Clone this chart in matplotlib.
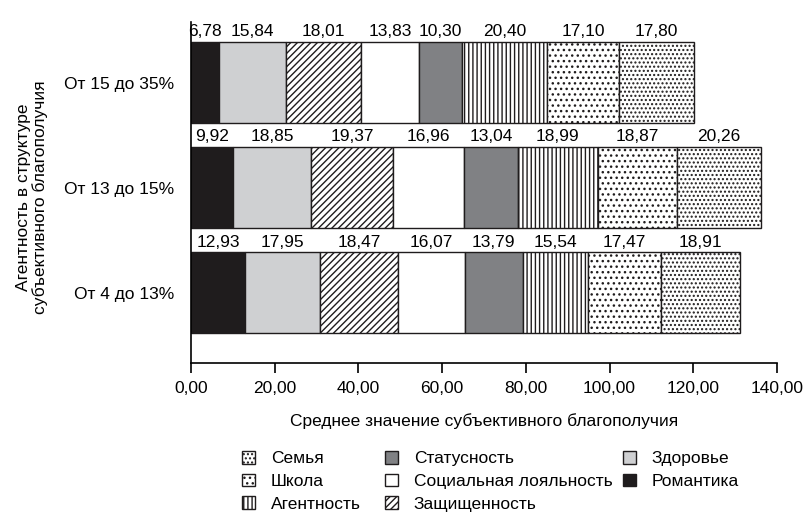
import numpy as np
import matplotlib
matplotlib.use('Agg')
import matplotlib.pyplot as plt
from matplotlib.ticker import FuncFormatter

plt.rcParams['font.family'] = ['Liberation Sans Narrow', 'Liberation Sans', 'DejaVu Sans']
plt.rcParams['hatch.linewidth'] = 1.0

categories = ['От 4 до 13%', 'От 13 до 15%', 'От 15 до 35%']
series = ['Романтика', 'Здоровье', 'Защищенность', 'Социальная лояльность',
          'Статусность', 'Агентность', 'Школа', 'Семья']
values = {
    'Романтика':             [12.93, 9.92, 6.78],
    'Здоровье':              [17.95, 18.85, 15.84],
    'Защищенность':          [18.47, 19.37, 18.01],
    'Социальная лояльность': [16.07, 16.96, 13.83],
    'Статусность':           [13.79, 13.04, 10.30],
    'Агентность':            [15.54, 18.99, 20.40],
    'Школа':                 [17.47, 18.87, 17.10],
    'Семья':                 [18.91, 20.26, 17.80],
}
xticks = [0, 20, 40, 60, 80, 100, 120, 140]

styles = {
    'Романтика':             dict(color='#1f1c1d', hatch=None),
    'Здоровье':              dict(color='#cfd0d2', hatch=None),
    'Защищенность':          dict(color='white', hatch='/////'),
    'Социальная лояльность': dict(color='white', hatch=None),
    'Статусность':           dict(color='#808184', hatch=None),
    'Агентность':            dict(color='white', hatch='||||'),
    'Школа':                 dict(color='white', hatch='...'),
    'Семья':                 dict(color='white', hatch='....'),
}

fs = 12.5
fig = plt.figure(figsize=(8.07, 5.19), dpi=100)
ax = fig.add_axes([0.2367, 0.3006, 0.7262, 0.657])

y = np.arange(len(categories))
left = np.zeros(len(categories))
for name in series:
    vals = np.array(values[name])
    st = styles[name]
    ax.barh(y, vals, left=left, height=0.77, color=st['color'], hatch=st['hatch'],
            edgecolor='#1f1c1d', linewidth=1.0, label=name)
    for i, v in enumerate(vals):
        ax.text(left[i] + v / 2, y[i] + 0.41, ('%.2f' % v).replace('.', ','),
                ha='center', va='bottom', fontsize=fs)
    left += vals

ax.set_xlim(0, 140)
ax.set_ylim(-0.67, 2.576)
ax.set_xticks(xticks)
ax.xaxis.set_major_formatter(FuncFormatter(lambda v, p: ('%.2f' % v).replace('.', ',')))
ax.set_yticks(y)
ax.set_yticklabels(categories)
ax.tick_params(axis='y', length=0, pad=12, labelsize=fs)
ax.tick_params(axis='x', length=7, width=1.2, pad=6, labelsize=fs)
for s in ['top', 'right']:
    ax.spines[s].set_visible(False)
for s in ['left', 'bottom']:
    ax.spines[s].set_linewidth(1.2)
ax.set_xlabel('Среднее значение субъективного благополучия', fontsize=fs, labelpad=12)
fig.text(32 / 807, 1 - 197 / 519, 'Агентность в структуре\nсубъективного благополучия',
         rotation=90, ha='center', va='center', fontsize=fs, linespacing=1.15)

h, l = ax.get_legend_handles_labels()
columns = [(242, ['Семья', 'Школа', 'Агентность']),
           (385, ['Статусность', 'Социальная лояльность', 'Защищенность']),
           (623, ['Здоровье', 'Романтика'])]
for x0, names in columns:
    fig.legend([h[l.index(n)] for n in names], names, loc='upper left',
               bbox_to_anchor=(x0 / 807, 1 - 451 / 519), frameon=False, fontsize=fs,
               handlelength=0.75, handleheight=0.75, handletextpad=0.9,
               labelspacing=0.42, borderpad=0, borderaxespad=0)

fig.savefig('out.png', dpi=100)
